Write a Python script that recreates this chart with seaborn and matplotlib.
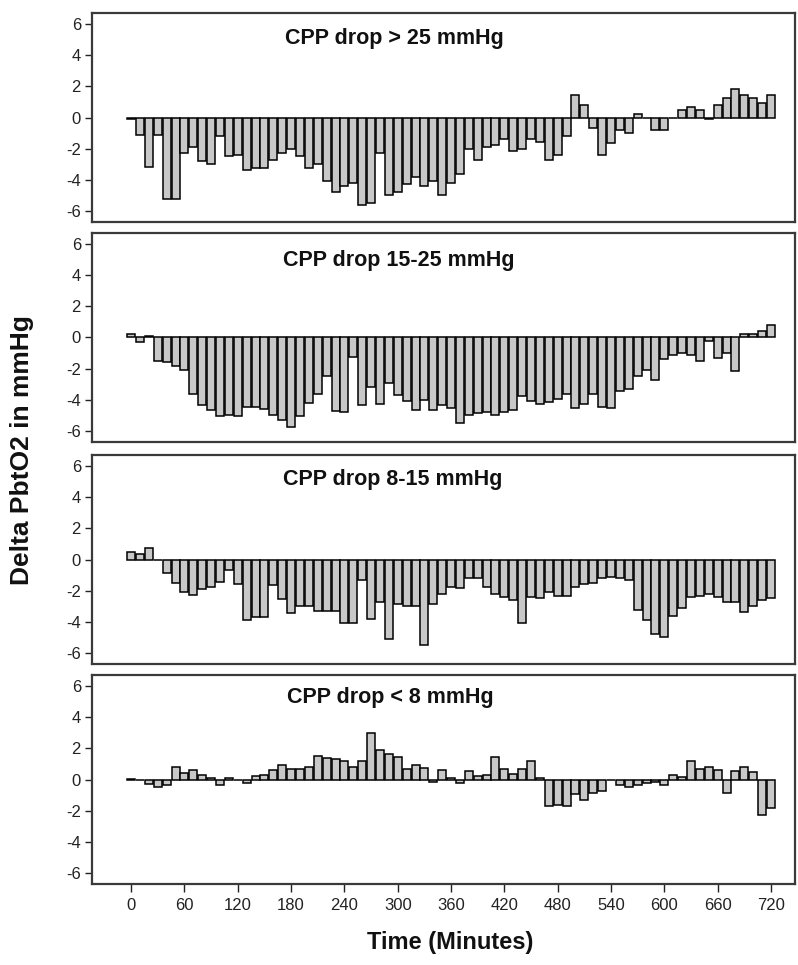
import numpy as np
import pandas as pd
import matplotlib
matplotlib.use("Agg")
import matplotlib.pyplot as plt
import seaborn as sns

# ---------------- data ----------------
minutes = list(range(0, 730, 10))

panel_titles = ["CPP drop > 25 mmHg", "CPP drop 15-25 mmHg",
                "CPP drop 8-15 mmHg", "CPP drop < 8 mmHg"]

drop_gt25 = [-0.1, -1.1, -3.2, -1.1, -5.2, -5.2, -2.25, -1.9, -2.8, -3.0,
             -1.2, -2.5, -2.4, -3.35, -3.25, -3.25, -2.7, -2.25, -2.05, -2.5,
             -3.25, -3.0, -4.1, -4.75, -4.4, -4.2, -5.6, -5.45, -2.3, -4.95,
             -4.8, -4.25, -3.8, -4.4, -4.05, -5.0, -4.2, -3.6, -2.0, -2.7,
             -1.9, -1.75, -1.35, -2.15, -2.05, -1.35, -1.6, -2.75, -2.4, -1.2,
             1.43, 0.8, -0.7, -2.4, -1.65, -0.8, -1.0, 0.25, 0.0, -0.8,
             -0.8, 0.0, 0.45, 0.7, 0.45, -0.12, 0.8, 1.25, 1.8, 1.43,
             1.25, 0.95, 1.43]

drop_15_25 = [0.2, -0.3, 0.1, -1.5, -1.55, -1.83, -2.1, -3.6, -4.35, -4.65,
              -5.05, -4.95, -5.05, -4.45, -4.45, -4.6, -4.95, -5.3, -5.75, -5.05,
              -4.2, -3.6, -2.45, -4.7, -4.75, -1.25, -4.3, -3.15, -4.25, -2.9,
              -3.7, -4.05, -4.65, -4.0, -4.65, -4.35, -4.55, -5.45, -4.95, -4.85,
              -4.75, -4.95, -4.75, -4.65, -3.75, -4.1, -4.25, -4.15, -3.95, -3.6,
              -4.55, -4.25, -3.6, -4.45, -4.55, -3.45, -3.3, -2.45, -2.1, -2.7,
              -1.35, -1.15, -1.0, -1.15, -1.5, -0.25, -1.3, -1.0, -2.15, 0.25,
              0.25, 0.4, 0.8]

drop_8_15 = [0.47, 0.36, 0.72, -0.05, -0.85, -1.5, -2.1, -2.3, -1.9, -1.75,
             -1.45, -0.7, -1.55, -3.85, -3.7, -3.7, -1.65, -2.55, -3.45, -3.0,
             -3.0, -3.3, -3.3, -3.3, -4.1, -4.1, -1.3, -3.8, -2.7, -5.1,
             -2.85, -2.95, -3.0, -5.45, -2.85, -2.2, -1.75, -1.85, -1.2, -1.2,
             -1.75, -2.2, -2.4, -2.6, -4.05, -2.4, -2.45, -2.1, -2.35, -2.35,
             -1.75, -1.55, -1.5, -1.2, -1.15, -1.2, -1.3, -3.25, -3.85, -4.8,
             -5.0, -3.6, -3.1, -2.4, -2.35, -2.2, -2.4, -2.75, -2.75, -3.35,
             -3.0, -2.6, -2.45]

drop_lt8 = [0.05, -0.02, -0.27, -0.45, -0.38, 0.8, 0.43, 0.6, 0.32, 0.1,
            -0.38, 0.08, 0.0, -0.25, 0.2, 0.32, 0.6, 0.95, 0.68, 0.68,
            0.8, 1.5, 1.38, 1.32, 1.2, 0.8, 1.2, 2.98, 1.9, 1.65,
            1.43, 0.7, 0.9, 0.72, -0.15, 0.6, 0.1, -0.25, 0.57, 0.25,
            0.32, 1.43, 0.7, 0.38, 0.7, 1.2, 0.1, -1.7, -1.65, -1.7,
            -0.95, -1.3, -0.85, -0.75, -0.05, -0.38, -0.5, -0.36, -0.2, -0.15,
            -0.38, 0.32, 0.17, 1.2, 0.68, 0.8, 0.64, -0.85, 0.57, 0.8,
            0.47, -2.3, -1.8]

series = [drop_gt25, drop_15_25, drop_8_15, drop_lt8]

y_ticks = [-6, -4, -2, 0, 2, 4, 6]
x_ticks = [0, 60, 120, 180, 240, 300, 360, 420, 480, 540, 600, 660, 720]

# ---------------- style ----------------
sns.set_theme(style="white")
plt.rcParams['font.family'] = ['Liberation Sans', 'DejaVu Sans']

fig = plt.figure(figsize=(7.98, 9.65), dpi=100)

W, H = 798.0, 965.0
left_px, right_px = 92, 795
panel_px = [(13, 222), (233, 442), (455, 664), (675, 884)]
title_pos = [(0.2745, 0.876), (0.272, 0.867), (0.272, 0.884), (0.277, 0.893)]

for i, (vals, title) in enumerate(zip(series, panel_titles)):
    top, bot = panel_px[i]
    ax = fig.add_axes([left_px / W, 1 - bot / H, (right_px - left_px) / W, (bot - top) / H])
    df = pd.DataFrame({"minute": minutes, "delta": vals})
    sns.barplot(data=df, x="minute", y="delta", native_scale=True, width=0.9,
                color="#c8c8c8", edgecolor="black", linewidth=1.1,
                saturation=1, errorbar=None, ax=ax)
    ax.set_xlim(-44, 747)
    ax.set_ylim(-6.7, 6.7)
    ax.set_yticks(y_ticks)
    ax.set_yticklabels([str(t) for t in y_ticks], fontsize=12)
    ax.tick_params(axis='y', direction='out', length=5, width=1, left=True, pad=3,
                   colors='#222222')
    ax.set_xlabel("")
    ax.set_ylabel("")
    for sp in ax.spines.values():
        sp.set_visible(True)
        sp.set_color('#3a3a3a')
        sp.set_linewidth(1.6)
    if i < 3:
        ax.set_xticks([])
    else:
        ax.set_xticks(x_ticks)
        ax.set_xticklabels([str(t) for t in x_ticks], fontsize=12)
        ax.tick_params(axis='x', direction='out', length=6, width=1, bottom=True,
                       pad=4, colors='#222222')
    tx, ty = title_pos[i]
    ax.text(tx, ty, title, transform=ax.transAxes, fontsize=15.5,
            fontweight='bold', ha='left', va='center', color='#111111')

fig.text(22 / W, 1 - 450 / H, "Delta PbtO2 in mmHg", rotation=90,
         fontsize=19, fontweight='bold', ha='center', va='center', color='#111111')
fig.text(450 / W, 1 - 943 / H, "Time (Minutes)", fontsize=17,
         fontweight='bold', ha='center', va='center', color='#111111')

fig.savefig("out.png", dpi=100)
